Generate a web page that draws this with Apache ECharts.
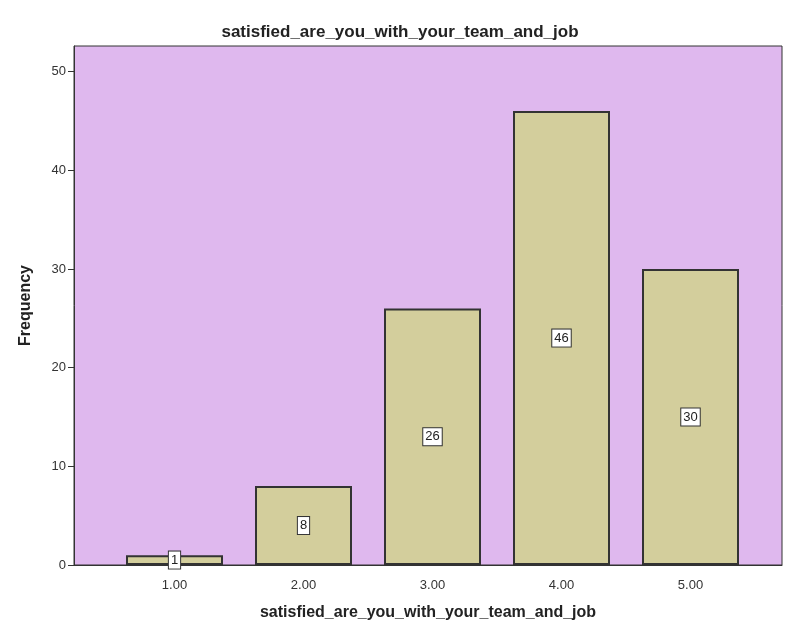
<!DOCTYPE html><html><head><meta charset="utf-8"><script src="https://cdn.jsdelivr.net/npm/echarts@6/dist/echarts.min.js"></script></head><body style="margin:0;background:#fff"><div id="c" style="width:800px;height:640px"></div><script>
const categories=['1.00','2.00','3.00','4.00','5.00'];
const frequency=[1,8,26,46,30];
const yTicks=[0,10,20,30,40,50];
const chart=echarts.init(document.getElementById('c'));
const YMAX=52.6;
const font='Arial, Liberation Sans, sans-serif';
chart.setOption({
 animation:false,
 title:{text:'satisfied_are_you_with_your_team_and_job',left:'center',top:19,textStyle:{fontFamily:font,fontSize:17,fontWeight:'bold',color:'#222'}},
 grid:[{left:74,right:18,top:46,bottom:75,show:true,backgroundColor:'#dfb8ee',borderColor:'#333',borderWidth:1},
       {left:110,width:645,top:46,bottom:75}],
 xAxis:[{type:'value',gridIndex:0,min:0,max:1,axisLabel:{show:false},axisTick:{show:false},splitLine:{show:false},axisLine:{lineStyle:{color:'#333'}},
   name:'satisfied_are_you_with_your_team_and_job',nameLocation:'middle',nameGap:40,nameTextStyle:{fontFamily:font,fontSize:16,fontWeight:'bold',color:'#222'}},
  {type:'category',gridIndex:1,data:categories,axisLine:{show:false},axisTick:{alignWithLabel:true,length:7,lineStyle:{color:'#333'}},axisLabel:{fontFamily:font,fontSize:13,color:'#333',margin:14}}],
 yAxis:[{type:'value',gridIndex:0,min:0,max:YMAX,splitLine:{show:false},axisLine:{show:true,lineStyle:{color:'#333'}},axisTick:{show:true,length:6,customValues:yTicks,lineStyle:{color:'#333'}},
   axisLabel:{fontFamily:font,fontSize:13,color:'#333',customValues:yTicks},
   name:'Frequency',nameLocation:'middle',nameGap:40,nameTextStyle:{fontFamily:font,fontSize:16,fontWeight:'bold',color:'#222'}},
  {type:'value',gridIndex:1,min:0,max:YMAX,show:false}],
 series:[{type:'bar',xAxisIndex:1,yAxisIndex:1,data:frequency,barWidth:97,itemStyle:{color:'#d3ce9c',borderColor:'#333',borderWidth:2},
   label:{show:true,position:'inside',fontFamily:font,fontSize:13,color:'#222',backgroundColor:'#fff',borderColor:'#333',borderWidth:1,padding:[2,2]}}]
});
</script></body></html>
